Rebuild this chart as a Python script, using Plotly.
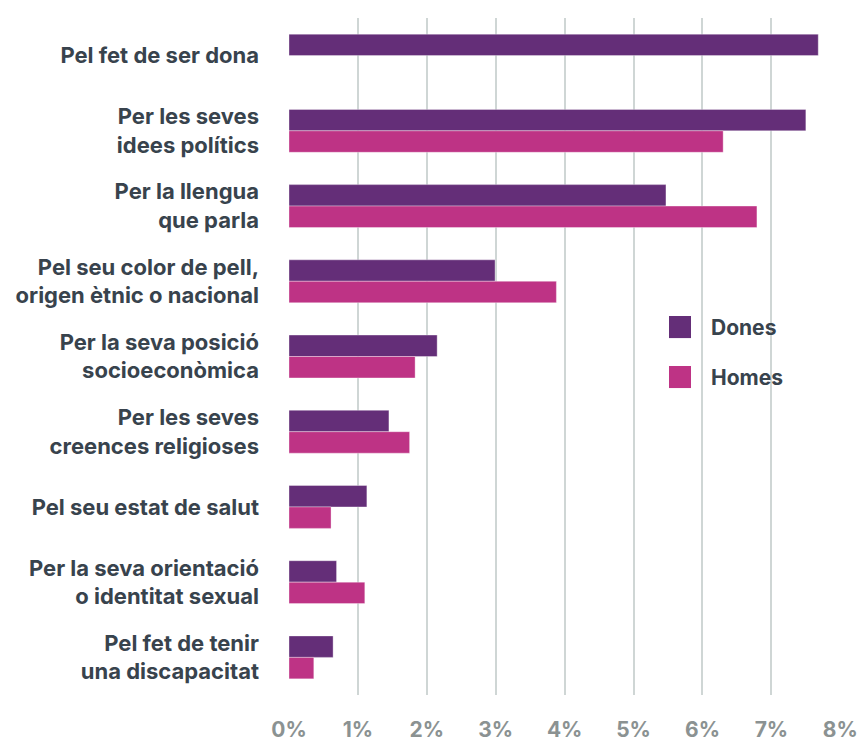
import plotly.graph_objects as go

# Motius de discriminació percebuda, per sexe (%)
categories = [
    "Pel fet de ser dona",
    "Per les seves<br>idees polítics",
    "Per la llengua<br>que parla",
    "Pel seu color de pell,<br>origen ètnic o nacional",
    "Per la seva posició<br>socioeconòmica",
    "Per les seves<br>creences religioses",
    "Pel seu estat de salut",
    "Per la seva orientació<br>o identitat sexual",
    "Pel fet de tenir<br>una discapacitat",
]
dones = [7.68, 7.50, 5.47, 2.99, 2.15, 1.45, 1.13, 0.69, 0.64]
homes = [None, 6.30, 6.79, 3.88, 1.83, 1.75, 0.61, 1.10, 0.36]
tick_vals = [0, 1, 2, 3, 4, 5, 6, 7, 8]
tick_text = ["0%", "1%", "2%", "3%", "4%", "5%", "6%", "7%", "8%"]

series_names = ["Dones", "Homes"]
colors = ["#642e78", "#be3385"]

FONT = "Inter"
LABEL_COLOR = "#38434d"
TICK_COLOR = "#8b9292"
GRID_COLOR = "#cfd6d5"

fig = go.Figure()
for name, vals, col in zip(series_names, [dones, homes], colors):
    fig.add_trace(go.Bar(
        y=categories, x=vals, name=name, orientation="h",
        marker=dict(color=col, line=dict(color="rgba(255,255,255,0.35)", width=1)),
        showlegend=False,
    ))

# Llegenda amb quadrats grans
leg_y = [0.5435, 0.4697]
for name, col, yc in zip(series_names, colors, leg_y):
    fig.add_shape(type="rect", xref="paper", yref="paper",
                  x0=0.6884, x1=0.7283, y0=yc - 0.0163, y1=yc + 0.0163,
                  fillcolor=col, line=dict(width=0))
    fig.add_annotation(xref="paper", yref="paper", x=0.764, y=yc,
                       text=f"<b>{name}</b>", showarrow=False,
                       xanchor="left", yanchor="middle", xshift=-2,
                       font=dict(family=FONT, size=21, color=LABEL_COLOR))

fig.update_layout(
    width=860, height=745,
    margin=dict(l=289, r=19, t=18, b=50, autoexpand=False),
    paper_bgcolor="white", plot_bgcolor="white",
    barmode="group", bargap=0.43, bargroupgap=0,
    font=dict(family=FONT),
)
fig.update_xaxes(
    range=[0, 8.01], tickvals=tick_vals, ticktext=tick_text,
    showgrid=True, gridcolor=GRID_COLOR, gridwidth=2,
    zeroline=False, showline=False, ticks="",
    tickfont=dict(family=FONT, size=21, color=TICK_COLOR, weight="bold"),
    ticklabelstandoff=20, automargin=False, fixedrange=True,
)
fig.update_yaxes(
    autorange="reversed", showgrid=False, zeroline=False, showline=False,
    ticks="", ticklabelstandoff=29, automargin=False,
    tickfont=dict(family=FONT, size=22, color=LABEL_COLOR, weight="bold"),
)

fig.write_html("out.html")
